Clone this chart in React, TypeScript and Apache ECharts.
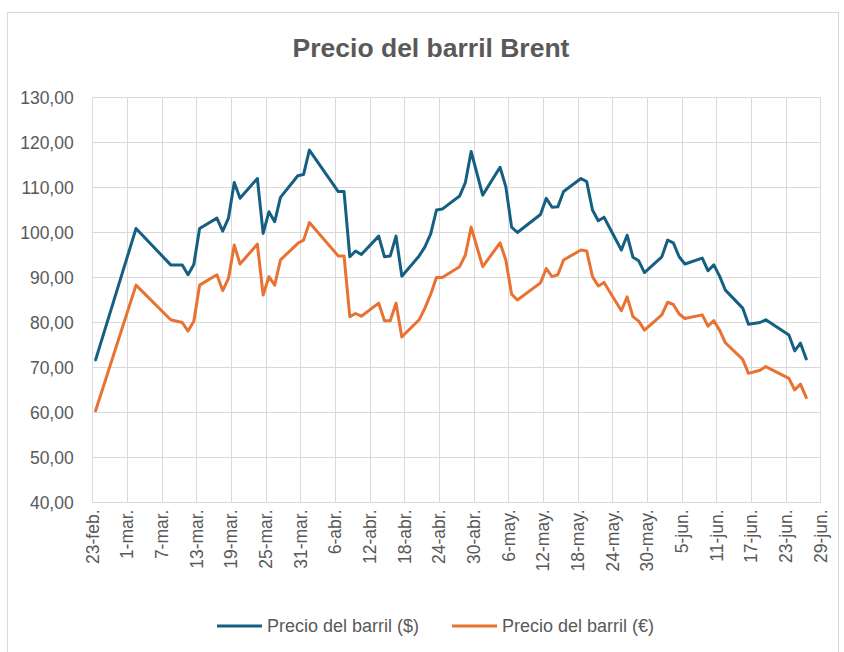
import React, { useEffect, useRef } from "react";
import * as echarts from "echarts";

const startDate = "2022-02-23";

const tickLabels = [
  "23-feb.", "1-mar.", "7-mar.", "13-mar.", "19-mar.", "25-mar.", "31-mar.",
  "6-abr.", "12-abr.", "18-abr.", "24-abr.", "30-abr.", "6-may.", "12-may.",
  "18-may.", "24-may.", "30-may.", "5-jun.", "11-jun.", "17-jun.", "23-jun.", "29-jun.",
];

const dates = [
  "2022-02-23", "2022-03-02", "2022-03-08", "2022-03-10", "2022-03-11", "2022-03-12",
  "2022-03-13", "2022-03-16", "2022-03-17", "2022-03-18", "2022-03-19", "2022-03-20",
  "2022-03-23", "2022-03-24", "2022-03-25", "2022-03-26", "2022-03-27", "2022-03-30",
  "2022-03-31", "2022-04-01", "2022-04-06", "2022-04-07", "2022-04-08", "2022-04-09",
  "2022-04-10", "2022-04-13", "2022-04-14", "2022-04-15", "2022-04-16", "2022-04-17",
  "2022-04-20", "2022-04-21", "2022-04-22", "2022-04-23", "2022-04-24", "2022-04-27",
  "2022-04-28", "2022-04-29", "2022-05-01", "2022-05-04", "2022-05-05", "2022-05-06",
  "2022-05-07", "2022-05-11", "2022-05-12", "2022-05-13", "2022-05-14", "2022-05-15",
  "2022-05-18", "2022-05-19", "2022-05-20", "2022-05-21", "2022-05-22", "2022-05-25",
  "2022-05-26", "2022-05-27", "2022-05-28", "2022-05-29", "2022-06-01", "2022-06-02",
  "2022-06-03", "2022-06-04", "2022-06-05", "2022-06-08", "2022-06-09", "2022-06-10",
  "2022-06-11", "2022-06-12", "2022-06-15", "2022-06-16", "2022-06-18", "2022-06-19",
  "2022-06-23", "2022-06-24", "2022-06-25", "2022-06-26",
];

const usdValues = [
  71.7, 100.9, 92.8, 92.8, 90.6, 92.9,
  100.9, 103.2, 100.3, 103.2, 111.1, 107.6,
  112.0, 99.8, 104.6, 102.4, 107.8, 112.6,
  112.9, 118.3, 109.1, 109.1, 94.6, 95.9,
  95.1, 99.2, 94.6, 94.8, 99.2, 90.3,
  94.8, 96.8, 99.7, 105.0, 105.2, 108.1,
  111.1, 118.0, 108.3, 114.5, 110.2, 101.2,
  100.0, 104.0, 107.6, 105.6, 105.7, 109.1,
  112.0, 111.3, 105.0, 102.6, 103.4, 96.1,
  99.4, 94.5, 93.7, 91.1, 94.6, 98.3,
  97.7, 94.6, 93.0, 94.3, 91.5, 92.8,
  90.3, 87.2, 83.2, 79.6, 80.0, 80.6,
  77.2, 73.7, 75.4, 71.9,
];

const eurValues = [
  60.4, 88.3, 80.6, 80.0, 78.1, 80.3,
  88.3, 90.6, 87.1, 89.8, 97.2, 93.0,
  97.4, 86.1, 90.2, 88.3, 93.9, 97.6,
  98.3, 102.2, 94.8, 94.8, 81.3, 82.0,
  81.4, 84.3, 80.4, 80.4, 84.3, 76.8,
  80.6, 83.2, 86.3, 90.0, 90.0, 92.4,
  95.0, 101.2, 92.4, 97.7, 93.9, 86.3,
  85.0, 88.8, 92.0, 90.2, 90.6, 93.9,
  96.1, 95.9, 90.2, 88.1, 88.9, 82.6,
  85.7, 81.3, 80.3, 78.3, 81.7, 84.5,
  84.0, 81.9, 80.9, 81.7, 79.2, 80.4,
  78.3, 75.5, 71.8, 68.7, 69.4, 70.2,
  67.6, 65.0, 66.3, 63.3,
];

const seriesNames = ["Precio del barril ($)", "Precio del barril (€)"];
const colors = ["#156082", "#E97132"];

const DAY = 86400000;
const dayOffset = (d: string) =>
  (Date.parse(d + "T00:00:00Z") - Date.parse(startDate + "T00:00:00Z")) / DAY;

export default function App() {
  const ref = useRef<HTMLDivElement>(null);

  useEffect(() => {
    if (!ref.current) return;
    const chart = echarts.init(ref.current, null, { renderer: "svg" });
    // Points are centred in their day slot, as on a date axis
    const xs = dates.map((d) => dayOffset(d) + 0.5);
    const text = "#595959";
    const font = "'Liberation Sans', Arial, sans-serif";
    chart.setOption({
      animation: false,
      backgroundColor: "#ffffff",
      title: {
        text: "Precio del barril Brent",
        left: 418,
        textAlign: "center",
        top: 16,
        textStyle: { fontSize: 26.5, fontWeight: "bold", color: text, fontFamily: font },
      },
      legend: {
        left: 204,
        top: 599,
        icon: "rect",
        itemWidth: 45,
        itemHeight: 3,
        itemGap: 33,
        textStyle: { fontSize: 18, color: text, fontFamily: font },
        data: seriesNames,
      },
      grid: { left: 84.7, right: 17.3, top: 84.5, bottom: 150.5 },
      xAxis: {
        type: "value",
        min: 0,
        max: 126,
        interval: 6,
        axisLine: { show: true, lineStyle: { color: "#d9d9d9", width: 1 } },
        axisTick: { show: false },
        splitLine: { show: true, lineStyle: { color: "#d9d9d9", width: 1 } },
        axisLabel: {
          rotate: 90,
          margin: 7,
          fontSize: 17.5,
          color: text,
          fontFamily: font,
          showMaxLabel: true,
          showMinLabel: true,
          formatter: (v: number) => tickLabels[Math.round(v / 6)] ?? "",
        },
      },
      yAxis: {
        type: "value",
        min: 40,
        max: 130,
        interval: 10,
        axisLine: { show: false },
        axisTick: { show: false },
        splitLine: { show: true, lineStyle: { color: "#d9d9d9", width: 1 } },
        axisLabel: {
          margin: 19,
          fontSize: 17.5,
          color: text,
          fontFamily: font,
          formatter: (v: number) => v.toFixed(2).replace(".", ","),
        },
      },
      series: [
        {
          name: seriesNames[0],
          type: "line",
          symbol: "none",
          data: xs.map((x, i) => [x, usdValues[i]]),
          lineStyle: { color: colors[0], width: 3, join: "round", cap: "round" },
          itemStyle: { color: colors[0] },
        },
        {
          name: seriesNames[1],
          type: "line",
          symbol: "none",
          data: xs.map((x, i) => [x, eurValues[i]]),
          lineStyle: { color: colors[1], width: 3, join: "round", cap: "round" },
          itemStyle: { color: colors[1] },
        },
      ],
    });
    return () => chart.dispose();
  }, []);

  return (
    <div
      style={{
        position: "absolute",
        left: 7,
        top: 12,
        width: 832,
        height: 642,
        border: "1px solid #d9d9d9",
        boxSizing: "border-box",
        background: "#fff",
      }}
    >
      <div ref={ref} style={{ width: 830, height: 640 }} />
    </div>
  );
}
